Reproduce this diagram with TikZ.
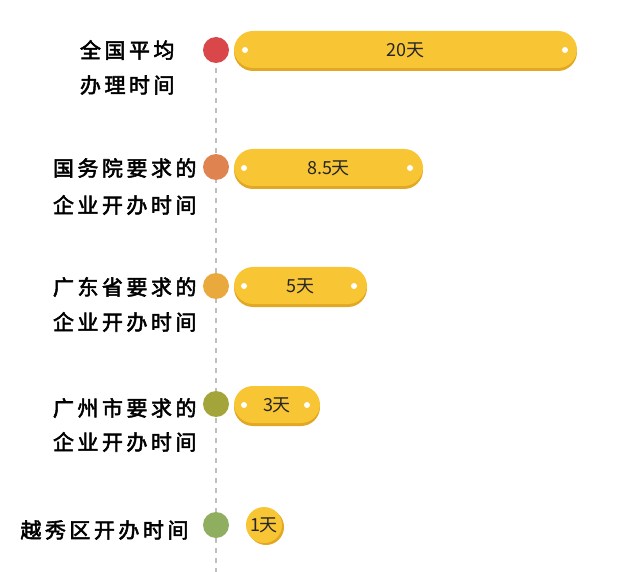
\documentclass[tikz,border=0pt]{standalone}
\usepackage{fontspec}
\newfontfamily\cjk[AutoFakeBold=2.5]{Noto Sans CJK SC}
\definecolor{barfill}{HTML}{F8C535}
\definecolor{barshade}{HTML}{E2A823}
\definecolor{dotA}{HTML}{D9474B}
\definecolor{dotB}{HTML}{DF8450}
\definecolor{dotC}{HTML}{E9A93C}
\definecolor{dotD}{HTML}{A3A53A}
\definecolor{dotE}{HTML}{8FAE60}
\tikzset{
  dot/.style={circle, minimum size=26pt, inner sep=0pt},
  lbl/.style={anchor=east, font=\cjk\bfseries\fontsize{21pt}{24pt}\selectfont},
  val/.style={font=\cjk\fontsize{18pt}{20pt}\selectfont, text=black!85}
}
\newcommand{\daybar}[4]{% name, x right, y, text
  \fill[barshade, rounded corners=19pt] (234,#3-17) rectangle (#2,#3+21);
  \fill[barfill, rounded corners=19pt] (234,#3-19) rectangle (#2,#3+18);
  \node[val] (#1) at ({(234+#2)/2},#3) {#4};
}
\begin{document}
\begin{tikzpicture}[x=1pt, y=-1pt]
  \useasboundingbox (0,0) rectangle (640,572);
  \draw[gray!50, line width=1.6pt, dash pattern=on 5pt off 5pt] (216,38) -- (216,572);

  \node[dot, fill=dotA] (a) at (216,50) {};
  \node[dot, fill=dotB] (b) at (216,167) {};
  \node[dot, fill=dotC] (c) at (216,286) {};
  \node[dot, fill=dotD] (d) at (216,404) {};
  \node[dot, fill=dotE] (e) at (216,525) {};

  \daybar{va}{577}{50}{20天}
  \daybar{vb}{423}{168}{8.5天}
  \daybar{vc}{367}{286}{5天}
  \daybar{vd}{320}{405}{3天}
  \fill[barshade] (266,527) circle (18pt);
  \fill[barfill] (264,525) circle (18pt);
  \node[val] (ve) at (264,525) {1天};

  \foreach \x/\y in {245/50, 565/50, 244/168, 410/168, 244/286, 354/286, 244/405, 307/405}
    \fill[white] (\x,\y) circle (3pt);

  \node[lbl] (la1) at (178,50) {全\,国\,平\,均};
  \node[lbl] (la2) at (178,85) {办\,理\,时\,间};
  \node[lbl] (lb1) at (200,168) {国\,务\,院\,要\,求\,的};
  \node[lbl] (lb2) at (200,205) {企\,业\,开\,办\,时\,间};
  \node[lbl] (lc1) at (200,287) {广\,东\,省\,要\,求\,的};
  \node[lbl] (lc2) at (200,322) {企\,业\,开\,办\,时\,间};
  \node[lbl] (ld1) at (200,408) {广\,州\,市\,要\,求\,的};
  \node[lbl] (ld2) at (200,442) {企\,业\,开\,办\,时\,间};
  \node[lbl] (le1) at (192,530) {越\,秀\,区\,开\,办\,时\,间};
\end{tikzpicture}
\end{document}
